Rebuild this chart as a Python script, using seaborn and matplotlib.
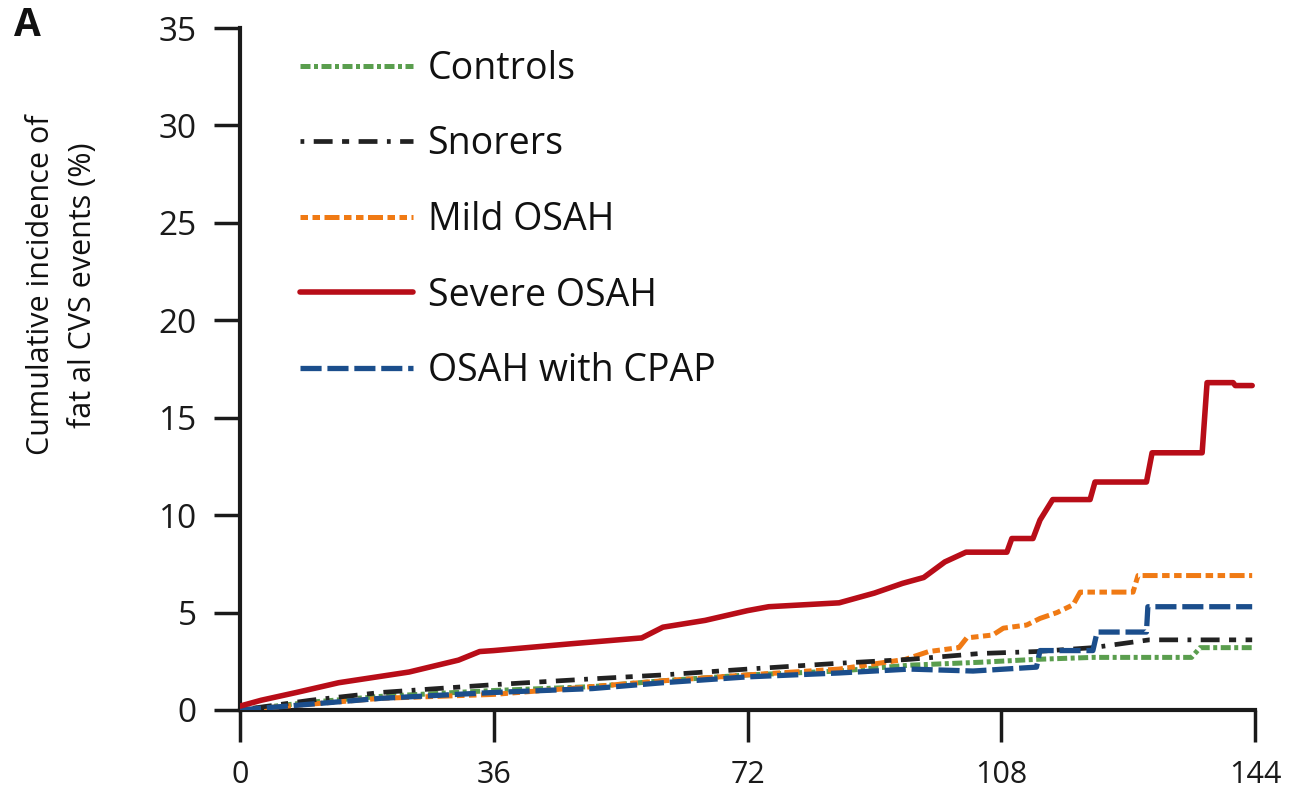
import matplotlib
matplotlib.use("Agg")
import matplotlib.pyplot as plt
import seaborn as sns
import pandas as pd

sns.set_theme(style="white")
plt.rcParams['font.family'] = ['Open Sans', 'DejaVu Sans']

# ---- data (months vs cumulative incidence %) ----
controls_x = [0, 10, 20, 36, 50, 60, 72, 85, 95, 105, 113, 121, 135, 136.2, 143.6]
controls_y = [0, 0.4, 0.7, 1.0, 1.2, 1.5, 1.8, 2.0, 2.3, 2.45, 2.6, 2.7, 2.7, 3.2, 3.2]

snorers_x = [0, 10, 20, 36, 50, 60, 72, 85, 95, 105, 113, 121, 129, 143.6]
snorers_y = [0, 0.5, 0.9, 1.3, 1.6, 1.8, 2.1, 2.4, 2.6, 2.9, 3.0, 3.2, 3.6, 3.6]

mild_x = [0, 10, 20, 36, 50, 60, 72, 85, 94.4, 97.7, 102, 103.1, 106.8, 108.3,
          111.6, 113.5, 115.9, 118.2, 119.2, 126.7, 127.4, 143.6]
mild_y = [0, 0.3, 0.6, 0.8, 1.2, 1.5, 1.8, 2.1, 2.6, 3.0, 3.2, 3.7, 3.85, 4.2,
          4.36, 4.7, 5.0, 5.4, 6.05, 6.05, 6.9, 6.9]

severe_x = [0, 3, 8, 14, 24, 31, 34, 36, 47, 57, 60, 66, 72, 75, 85, 90, 94, 97,
            100, 103, 108.8, 109.5, 112.5, 113.5, 115.3, 120.6, 121.3, 128.6,
            129.4, 136.5, 137.2, 140.9, 141.2, 143.6]
severe_y = [0.2, 0.5, 0.9, 1.4, 1.95, 2.56, 3.0, 3.05, 3.4, 3.7, 4.25, 4.6, 5.1,
            5.3, 5.5, 6.0, 6.5, 6.8, 7.6, 8.1, 8.1, 8.8, 8.8, 9.75, 10.8, 10.8,
            11.7, 11.7, 13.2, 13.2, 16.8, 16.8, 16.65, 16.65]

cpap_x = [0, 10, 20, 36, 50, 60, 72, 85, 95, 104, 113, 113.5, 121, 121.6, 128.6,
          128.8, 143.6]
cpap_y = [0, 0.3, 0.6, 0.9, 1.1, 1.4, 1.7, 1.9, 2.1, 2.0, 2.2, 3.05, 3.05, 4.0,
          4.0, 5.3, 5.3]

x_ticks = [0, 36, 72, 108, 144]
y_ticks = [0, 5, 10, 15, 20, 25, 30, 35]

series = [
    ("Controls", controls_x, controls_y, "#5a9e4e", (0, (2.0, 0.7, 0.8, 0.7)), 3.6),
    ("Snorers", snorers_x, snorers_y, "#222222", (0, (0.8, 2.0, 4.0, 2.0, 1.5, 2.0, 4.0, 2.0)), 3.4),
    ("Mild OSAH", mild_x, mild_y, "#f07a14", (0, (1.5, 0.9, 1.5, 0.9, 3.0, 0.9)), 3.6),
    ("Severe OSAH", severe_x, severe_y, "#b80d18", "-", 4.0),
    ("OSAH with CPAP", cpap_x, cpap_y, "#1b4e8c", (0, (4.0, 1.1)), 3.8),
]
draw_order = ["Controls", "Mild OSAH", "Snorers", "OSAH with CPAP", "Severe OSAH"]
z = {name: i + 2 for i, name in enumerate(draw_order)}

fig = plt.figure(figsize=(12.93, 8.02), dpi=100)
ax = fig.add_axes([240 / 1293, 1 - 710 / 802, (1255 - 240) / 1293, (710 - 28) / 802])

for name, xs, ys, col, ls, lw in series:
    df = pd.DataFrame({"x": xs, "y": ys})
    sns.lineplot(data=df, x="x", y="y", ax=ax, estimator=None, sort=False,
                 color=col, linestyle=ls, linewidth=lw, label=name,
                 zorder=z[name])

ax.set_xlim(0, 144)
ax.set_ylim(0, 35)
ax.set_xticks(x_ticks)
ax.set_yticks(y_ticks)
ax.set_xlabel("")
ax.set_ylabel("")
for s in ["top", "right"]:
    ax.spines[s].set_visible(False)
for s in ["left", "bottom"]:
    ax.spines[s].set_linewidth(3)
    ax.spines[s].set_color("#1a1a1a")
ax.tick_params(axis="x", direction="out", length=23, width=2.5, pad=13,
               labelsize=22, colors="#1a1a1a", bottom=True)
ax.tick_params(axis="y", direction="out", length=19, width=2.5, pad=12,
               labelsize=24, colors="#1a1a1a", left=True)

leg = ax.legend(loc="upper left", bbox_to_anchor=((300 - 240) / 1015, 1 - (50 - 28) / 682),
                frameon=False, fontsize=27, handlelength=3.0, handletextpad=0.4,
                labelspacing=1.0, borderpad=0, borderaxespad=0)
for t in leg.get_texts():
    t.set_color("#111111")

fig.text(62 / 1293, 1 - 285 / 802, "Cumulative incidence of\nfat al CVS events (%)",
         rotation=90, ha="center", va="center", multialignment="center",
         fontsize=22, color="#111111", linespacing=1.55)
fig.text(14 / 1293, 1 - 25 / 802, "A", fontsize=28, fontweight="bold",
         ha="left", va="center", color="#111111")

fig.savefig("out.png", dpi=100)
